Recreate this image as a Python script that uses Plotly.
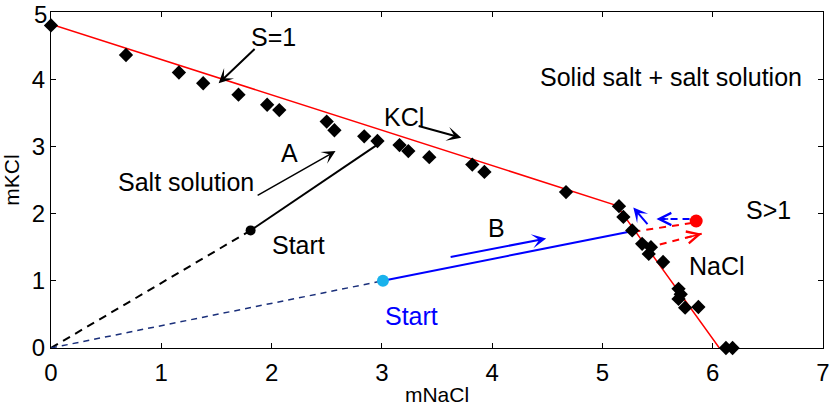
import plotly.graph_objects as go

# Measured solubility points (molality of NaCl vs KCl)
m_nacl = [0.00, 0.68, 1.16, 1.38, 1.70, 1.96, 2.07, 2.50, 2.57, 2.84, 2.96,
          3.16, 3.24, 3.43, 3.82, 3.93, 4.67, 5.15, 5.19, 5.27, 5.36, 5.44,
          5.42, 5.55, 5.69, 5.71, 5.69, 5.75, 5.87, 6.12, 6.18]
m_kcl = [4.80, 4.36, 4.10, 3.94, 3.77, 3.62, 3.54, 3.37, 3.24, 3.15, 3.08,
         3.02, 2.93, 2.84, 2.73, 2.62, 2.32, 2.11, 1.95, 1.75, 1.55, 1.50,
         1.40, 1.28, 0.88, 0.80, 0.73, 0.60, 0.61, 0.00, 0.00]

# Saturation boundary S=1 (KCl branch, invariant point, NaCl branch)
sat_x = [0.00, 5.13, 6.06]
sat_y = [4.82, 2.12, 0.00]

# Evaporation path A
a_dash_x = [0.00, 1.81]
a_dash_y = [0.00, 1.75]
a_solid_x = [1.81, 2.99]
a_solid_y = [1.75, 3.06]
a_start = (1.81, 1.75)

# Evaporation path B
b_dash_x = [0.00, 3.01]
b_dash_y = [0.00, 1.00]
b_solid_x = [3.01, 5.30]
b_solid_y = [1.00, 1.75]
b_start = (3.01, 1.00)

# Supersaturated state (S>1)
super_pt = (5.85, 1.89)
red_dash_x = [5.81, 5.28]
red_dash_y = [1.86, 1.73]
red_arrow_tail = (5.52, 1.54)
red_arrow_head = (5.90, 1.70)
blue_dash_tail = (5.79, 1.92)
blue_dash_head = (5.49, 1.92)

# Solid arrows: (tail_x, tail_y, head_x, head_y, colour, width)
solid_arrows = [
    (1.86, 4.47, 1.52, 3.94, "black", 2.0),   # S=1
    (1.86, 2.26, 2.58, 2.93, "black", 1.5),   # A
    (3.32, 3.31, 3.72, 3.13, "black", 2.0),   # KCl
    (3.61, 1.35, 4.49, 1.63, "#0000ff", 2.0), # B
    (5.42, 1.82, 5.28, 2.09, "#0000ff", 2.0), # back toward boundary
]

# Text labels: (x, y, text, colour)
labels = [
    (2.02, 4.63, "S=1", "black"),
    (5.62, 4.03, "Solid salt + salt solution", "black"),
    (3.20, 3.44, "KCl", "black"),
    (2.16, 2.90, "A", "black"),
    (1.22, 2.47, "Salt solution", "black"),
    (2.24, 1.54, "Start", "black"),
    (4.04, 1.78, "B", "black"),
    (3.27, 0.48, "Start", "#0000ff"),
    (6.04, 1.22, "NaCl", "black"),
    (6.51, 2.05, "S>1", "black"),
]

x_ticks = [0, 1, 2, 3, 4, 5, 6, 7]
y_ticks = [0, 1, 2, 3, 4, 5]

FONT = "Liberation Sans, Arial, sans-serif"
TICK_FONT = dict(family=FONT, size=24, color="black")

fig = go.Figure()

fig.add_trace(go.Scatter(x=a_dash_x, y=a_dash_y, mode="lines",
                         line=dict(color="black", width=2, dash="8px,6px")))
fig.add_trace(go.Scatter(x=b_dash_x, y=b_dash_y, mode="lines",
                         line=dict(color="#1a2f7a", width=1.5, dash="6px,5px")))
fig.add_trace(go.Scatter(x=a_solid_x, y=a_solid_y, mode="lines",
                         line=dict(color="black", width=2)))
fig.add_trace(go.Scatter(x=b_solid_x, y=b_solid_y, mode="lines",
                         line=dict(color="#0000ff", width=2)))
fig.add_trace(go.Scatter(x=red_dash_x, y=red_dash_y, mode="lines",
                         line=dict(color="#ff0000", width=2, dash="7px,6px")))
fig.add_trace(go.Scatter(x=[red_arrow_tail[0], red_arrow_head[0]],
                         y=[red_arrow_tail[1], red_arrow_head[1]], mode="lines",
                         line=dict(color="#ff0000", width=2, dash="7px,6px")))
fig.add_trace(go.Scatter(x=[blue_dash_tail[0], blue_dash_head[0]],
                         y=[blue_dash_tail[1], blue_dash_head[1]], mode="lines",
                         line=dict(color="#0000ff", width=2, dash="7px,5px")))
fig.add_trace(go.Scatter(x=sat_x, y=sat_y, mode="lines",
                         line=dict(color="#ff0000", width=1.5)))
fig.add_trace(go.Scatter(x=m_nacl, y=m_kcl, mode="markers", cliponaxis=False,
                         marker=dict(symbol="diamond", size=11, color="black")))
fig.add_trace(go.Scatter(x=[a_start[0]], y=[a_start[1]], mode="markers",
                         marker=dict(size=10, color="black")))
fig.add_trace(go.Scatter(x=[b_start[0]], y=[b_start[1]], mode="markers",
                         marker=dict(size=12, color="#19b2ec")))
fig.add_trace(go.Scatter(x=[super_pt[0]], y=[super_pt[1]], mode="markers",
                         marker=dict(size=13, color="#ff0000")))

annotations = []
for tx, ty, hx, hy, col, w in solid_arrows:
    annotations.append(dict(x=hx, y=hy, ax=tx, ay=ty, xref="x", yref="y",
                            axref="x", ayref="y", text="", showarrow=True,
                            arrowhead=3, arrowsize=1.5 if w < 2 else 1.2,
                            arrowwidth=w, arrowcolor=col))

# Open heads on the dashed arrows
for tail, head, col in [(red_arrow_tail, red_arrow_head, "#ff0000"),
                        (blue_dash_tail, blue_dash_head, "#0000ff")]:
    stub_x = head[0] - 0.4 * (head[0] - tail[0])
    stub_y = head[1] - 0.4 * (head[1] - tail[1])
    annotations.append(dict(x=head[0], y=head[1], ax=stub_x, ay=stub_y,
                            xref="x", yref="y", axref="x", ayref="y", text="",
                            showarrow=True, arrowhead=5, arrowsize=1.5,
                            arrowwidth=1.6, arrowcolor=col))

for lx, ly, txt, col in labels:
    annotations.append(dict(x=lx, y=ly, xref="x", yref="y", text=txt,
                            showarrow=False,
                            font=dict(family=FONT, size=25, color=col)))

# The top y tick label sits on the figure edge, where the axis would drop it;
# anchor its box to the top of the page so it stays whole
annotations.append(dict(x=0, y=1, xref="paper", yref="paper",
                        text=str(y_ticks[-1]), showarrow=False,
                        xanchor="right", yanchor="top", xshift=-3, yshift=12,
                        borderpad=0, font=TICK_FONT))

axis_common = dict(showgrid=False, zeroline=False, showline=True,
                   linecolor="black", linewidth=1.3, mirror="allticks",
                   ticks="inside", ticklen=5, tickwidth=1, tickcolor="black",
                   tickfont=TICK_FONT)

fig.update_layout(
    width=838, height=411,
    margin=dict(l=51, r=8, t=12, b=55),
    paper_bgcolor="white", plot_bgcolor="white",
    showlegend=False,
    annotations=annotations,
    xaxis=dict(range=[0, 7], tickvals=x_ticks, ticklabelstandoff=3,
               title=dict(text="mNaCl", standoff=2,
                          font=dict(family=FONT, size=21, color="black")),
               **axis_common),
    yaxis=dict(range=[0, 5], tickvals=y_ticks,
               title=dict(text="mKCl", standoff=6,
                          font=dict(family=FONT, size=21, color="black")),
               **axis_common),
)

fig.write_html("out.html")
